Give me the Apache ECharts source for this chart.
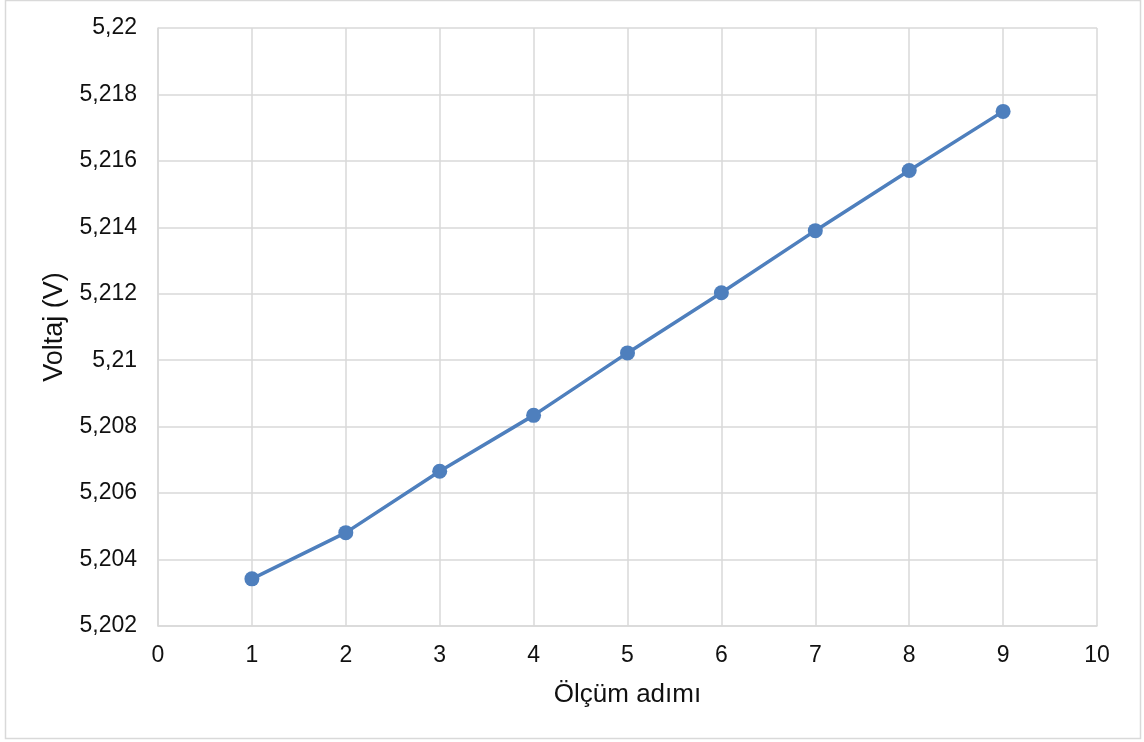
<!DOCTYPE html>
<html>
<head>
<meta charset="utf-8">
<script src="https://cdn.jsdelivr.net/npm/echarts@6/dist/echarts.min.js"></script>
<style>
html,body{margin:0;padding:0;background:#fff;}
#chart{width:1144px;height:742px;}
</style>
</head>
<body>
<div id="chart"></div>
<script>
var steps = [1, 2, 3, 4, 5, 6, 7, 8, 9];
var voltages = [5.20342, 5.20481, 5.20666, 5.20834, 5.21022, 5.21203, 5.2139, 5.21571, 5.21749];
var xTitle = 'Ölçüm adımı';
var yTitle = 'Voltaj (V)';

var seriesData = steps.map(function (s, i) { return [s, voltages[i]]; });
var chart = echarts.init(document.getElementById('chart'), null, { renderer: 'canvas' });
var font = 'Liberation Sans, Arial, sans-serif';
var gridColor = '#d9d9d9';

chart.setOption({
  animation: false,
  backgroundColor: '#ffffff',
  graphic: [{
    type: 'rect',
    shape: { x: 5.5, y: 0.5, width: 1135, height: 738 },
    style: { fill: 'none', stroke: '#d9d9d9', lineWidth: 1.5 },
    silent: true
  }],
  grid: { left: 158, right: 47, top: 28, bottom: 116, containLabel: false },
  xAxis: {
    type: 'value',
    min: 0, max: 10, interval: 1,
    name: xTitle,
    nameLocation: 'middle',
    nameGap: 56,
    nameTextStyle: { fontFamily: font, fontSize: 26, color: '#111' },
    axisLine: { show: true, lineStyle: { color: gridColor, width: 1.5 } },
    axisTick: { show: false },
    axisLabel: { fontFamily: font, fontSize: 23, color: '#111', margin: 18 },
    splitLine: { show: true, lineStyle: { color: gridColor, width: 1.5 } }
  },
  yAxis: {
    type: 'value',
    min: 5.202, max: 5.22, interval: 0.002,
    name: yTitle,
    nameLocation: 'middle',
    nameGap: 86,
    nameRotate: 90,
    nameTextStyle: { fontFamily: font, fontSize: 27, color: '#111' },
    axisLine: { show: true, lineStyle: { color: gridColor, width: 1.5 } },
    axisTick: { show: false },
    axisLabel: {
      fontFamily: font, fontSize: 23, color: '#111', margin: 21,
      formatter: function (v) {
        var s = v.toFixed(3).replace(/0+$/, '').replace(/\.$/, '');
        return s.replace('.', ',');
      }
    },
    splitLine: { show: true, lineStyle: { color: gridColor, width: 1.5 } }
  },
  series: [{
    type: 'line',
    data: seriesData,
    symbol: 'circle',
    symbolSize: 15,
    lineStyle: { color: '#4e7fbd', width: 3.5 },
    itemStyle: { color: '#4e7fbd' },
    z: 5
  }]
});
</script>
</body>
</html>
